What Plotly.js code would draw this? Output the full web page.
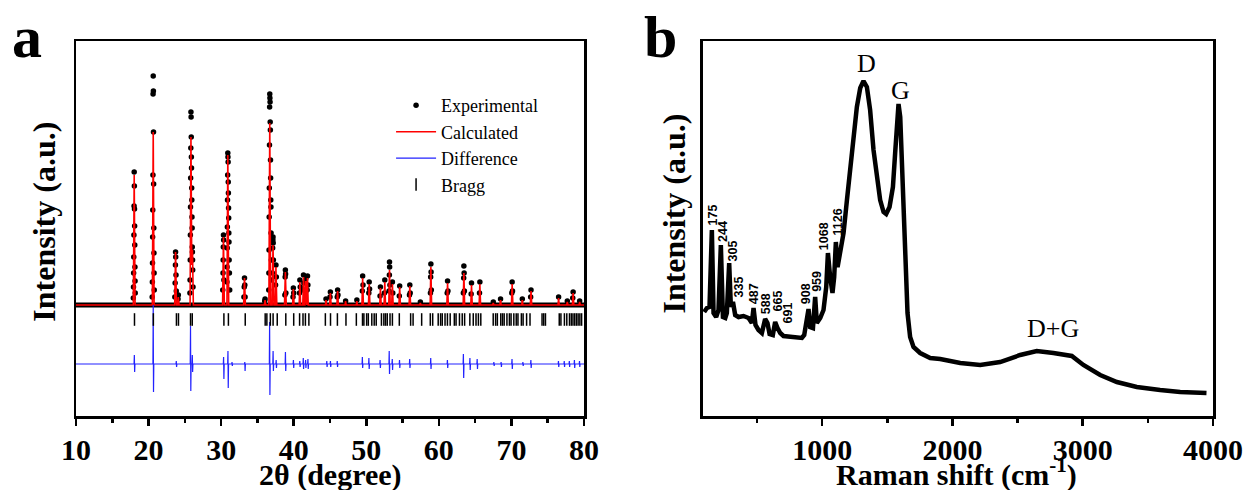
<!DOCTYPE html>
<html><head><meta charset="utf-8">
<script src="https://cdn.plot.ly/plotly-3.0.1.min.js"></script>
<style>html,body{margin:0;padding:0;background:#fff}#chart{width:1244px;height:490px}</style>
</head><body><div id="chart"></div>
<script>
// ---------- Panel a : XRD Rietveld refinement ----------
var expBaseX = [10, 80];
var expBaseY = [0, 0];

var obsX = [17.90,17.92,17.94,17.96,17.98,18.00,18.02,18.04,18.06,18.08,18.10,18.12,18.14,18.16,
  20.50,20.52,20.54,20.56,20.58,20.60,20.62,20.64,20.66,20.68,20.70,20.72,20.74,20.76,20.78,
  23.62,23.66,23.70,23.72,23.74,23.78,23.82,24.06,24.10,
  25.70,25.72,25.74,25.76,25.78,25.80,25.82,25.84,25.86,25.88,25.90,25.92,25.94,25.96,25.98,26.00,26.02,26.04,26.06,26.08,26.12,
  30.22,30.26,30.28,30.30,30.32,30.34,30.38,
  30.80,30.82,30.84,30.86,30.88,30.90,30.92,30.94,30.96,30.98,31.00,31.02,31.04,31.06,31.08,31.10,31.14,31.18,
  33.14,33.18,33.22,33.26,33.30,
  36.00,36.05,
  36.56,36.58,36.60,36.62,36.64,36.66,36.68,36.70,36.72,36.74,36.76,36.78,36.80,36.82,36.84,36.86,36.88,36.92,36.96,
  37.06,37.10,37.13,37.15,37.17,37.20,
  37.50,37.55,37.60,
  38.78,38.82,38.85,38.88,38.92,
  39.90,39.95,40.00, 40.80,40.85,40.90, 41.30,41.35,41.40, 41.62,41.65, 41.85,41.90,41.95,
  44.45, 45.00,45.05, 46.00,46.05,46.10, 47.15, 48.70,
  49.45,49.50,49.55, 50.35,50.40,50.45, 51.90,51.95, 52.50,52.55,
  53.14,53.18,53.20,53.22,53.26, 53.60,53.65, 54.55,54.60, 55.95,56.00,56.05, 57.45,
  58.84,58.87,58.90,58.93,58.96, 61.15,61.20,61.25,
  63.38,63.42,63.45,63.48,63.52, 64.45,64.50, 65.60,65.65, 67.50, 68.50,
  70.05,70.10,70.15, 71.50, 72.65,72.70, 76.50, 77.70, 78.45,78.50, 79.40];
var obsY = [7,18,32,48,70,99,133,119,96,79,60,38,24,12,
  8,23,42,68,95,130,211,229,214,173,121,77,52,32,15,
  8,22,40,53,48,30,14,6,10,
  12,25,45,70,98,127,157,193,188,168,148,137,117,105,88,77,58,53,45,35,18,
  15,32,45,58,70,65,25,
  23,38,57,78,105,130,152,148,143,123,112,97,87,72,63,45,32,15,
  8,18,27,20,8,
  4,6,
  15,32,55,88,117,160,198,211,207,203,183,175,145,127,105,98,72,45,25,
  32,57,65,68,62,45,
  20,40,28,
  10,28,35,31,12,
  8,17,12, 12,25,18, 15,30,22, 14,26, 15,29,20,
  6, 8,13, 8,15,10, 4, 5,
  14,29,20, 12,23,16, 9,18, 12,25,
  14,30,43,38,20, 23,12, 9,19, 10,20,12, 3,
  12,28,41,33,15, 12,24,14,
  12,27,39,32,14, 11,22, 12,23, 3, 6,
  12,23,14, 6, 8,15, 8, 4, 7,13, 4];

var calcX = [10,
  17.90,18.02,18.14, 20.52,20.64,20.76, 23.60,23.72,23.84, 24.00,24.10,24.20,
  25.72,25.84,25.95,26.05,26.17, 30.20,30.32,30.44, 30.80,30.92,31.04, 33.10,33.22,33.34,
  35.95,36.05,36.15, 36.58,36.70,36.82, 37.03,37.15,37.27, 37.45,37.55,37.67,
  38.73,38.85,38.97, 39.85,39.95,40.05, 40.75,40.85,40.95, 41.25,41.35,41.47,
  41.55,41.65,41.77, 41.80,41.90,42.00, 44.37,44.45,44.53, 44.95,45.05,45.15,
  45.95,46.05,46.15, 47.07,47.15,47.23, 48.62,48.70,48.78, 49.40,49.50,49.60,
  50.30,50.40,50.50, 51.85,51.95,52.05, 52.45,52.55,52.65, 53.10,53.20,53.30,
  53.50,53.60,53.70, 54.50,54.60,54.70, 55.90,56.00,56.10, 57.37,57.45,57.53,
  58.80,58.90,59.00, 61.10,61.20,61.30, 63.35,63.45,63.55, 64.40,64.50,64.60,
  65.55,65.65,65.75, 67.42,67.50,67.58, 68.42,68.50,68.58, 70.00,70.10,70.20,
  71.42,71.50,71.58, 72.60,72.70,72.80, 76.42,76.50,76.58, 77.62,77.70,77.78,
  78.40,78.50,78.60, 79.32,79.40,79.48, 80];
var calcY = [0,
  0,130,0, 0,173,0, 0,53,0, 0,8,0,
  0,168,40,55,0, 0,68,0, 0,150,0, 0,27,0,
  0,5,0, 0,182,0, 0,60,0, 0,38,0,
  0,33,0, 0,16,0, 0,23,0, 0,28,0,
  0,24,0, 0,27,0, 0,5,0, 0,12,0,
  0,14,0, 0,4,0, 0,4,0, 0,27,0,
  0,21,0, 0,17,0, 0,23,0, 0,35,0,
  0,21,0, 0,18,0, 0,19,0, 0,2,0,
  0,38,0, 0,22,0, 0,32,0, 0,20,0,
  0,21,0, 0,2,0, 0,5,0, 0,21,0,
  0,5,0, 0,14,0, 0,7,0, 0,3,0,
  0,12,0, 0,3,0, 0];

var diffX = [10,
  18.00,18.04,18.08,18.12, 20.60,20.64,20.68,20.72, 23.78,23.82,23.86,23.90,
  25.74,25.78,25.82,25.86, 25.99,26.03,26.07,26.11, 30.30,30.34,30.38,30.42,
  30.90,30.94,30.98,31.02, 31.46,31.50,31.54,31.58, 33.22,33.26,33.30,33.34,
  36.64,36.68,36.72,36.76, 37.12,37.16,37.20,37.24, 37.54,37.58,37.62,37.66,
  38.82,38.86,38.90,38.94, 39.92,39.96,40.00,40.04, 40.80,40.84,40.88,40.92,
  41.28,41.32,41.36,41.40, 41.60,41.64,41.68,41.72, 41.92,41.96,42.00,42.04,
  44.52,44.56,44.60,44.64, 45.02,45.06,45.10,45.14, 45.96,46.00,46.04,46.08,
  49.42,49.46,49.50,49.54, 50.32,50.36,50.40,50.44, 51.86,51.90,51.94,51.98,
  53.12,53.16,53.20,53.24, 53.54,53.58,53.62,53.66, 54.54,54.58,54.62,54.66,
  55.94,55.98,56.02,56.06, 58.84,58.88,58.92,58.96, 61.14,61.18,61.22,61.26,
  63.34,63.38,63.42,63.46, 64.24,64.28,64.32,64.36, 65.24,65.28,65.32,65.36,
  67.54,67.58,67.62,67.66, 68.54,68.58,68.62,68.66, 70.04,70.08,70.12,70.16,
  71.54,71.58,71.62,71.66, 72.64,72.68,72.72,72.76, 76.44,76.48,76.52,76.56,
  77.24,77.28,77.32,77.36, 77.94,77.98,78.02,78.06, 78.64,78.68,78.72,78.76,
  79.34,79.38,79.42,79.46, 80];
var diffY = [-59,
  -59,-50,-67,-59, -59,0,-87,-59, -59,-56,-62,-59,
  -59,-21,-86,-59, -59,-50,-67,-59, -59,-52,-74,-59,
  -59,-46,-83,-59, -59,-57,-61,-59, -59,-57,-66,-59,
  -59,-17,-90,-59, -59,-46,-66,-59, -59,-55,-63,-59,
  -59,-47,-66,-59, -59,-55,-63,-59, -59,-56,-62,-59,
  -59,-53,-64,-59, -59,-55,-63,-59, -59,-54,-64,-59,
  -59,-56,-62,-59, -59,-56,-62,-59, -59,-56,-62,-59,
  -59,-52,-63,-59, -59,-53,-64,-59, -59,-55,-63,-59,
  -59,-46,-69,-59, -59,-54,-65,-59, -59,-55,-63,-59,
  -59,-54,-63,-59, -59,-53,-64,-59, -59,-55,-63,-59,
  -59,-49,-73,-59, -59,-53,-65,-59, -59,-54,-64,-59,
  -59,-57,-61,-59, -59,-57,-62,-59, -59,-54,-64,-59,
  -59,-57,-61,-59, -59,-55,-63,-59, -59,-56,-62,-59,
  -59,-56,-62,-59, -59,-56,-62,-59, -59,-55,-63,-59,
  -59,-56,-62,-59, -59];

var braggPos = [18.06,20.66,23.84,24.12,25.78,26.02,30.38,31.00,33.32,36.07,36.30,36.78,37.16,37.73,
  38.91,40.00,40.81,41.28,41.61,42.09,44.36,45.07,46.02,47.20,48.63,49.48,49.67,50.05,50.28,50.76,
  51.09,51.37,52.09,52.42,52.65,52.89,53.27,53.60,54.55,56.11,56.45,57.63,58.82,59.15,59.91,60.24,
  60.47,60.85,61.18,61.56,62.13,62.37,62.84,63.22,63.55,64.27,64.74,65.12,65.45,65.78,67.49,67.82,
  68.06,68.53,68.77,69.00,69.38,69.72,69.95,70.33,70.66,70.90,71.37,71.61,72.09,72.56,74.22,74.45,
  74.69,76.59,76.82,77.30,77.63,78.00,78.25,78.48,78.72,78.96,79.19,79.43,79.67];
var braggLevel = -14.5;

// ---------- Panel b : Raman spectrum ----------
var ramanShift = [94,115,135,153,166,186,204,222,238,256,268,286,299,315,332,358,396,435,460,473,
  488,511,537,562,580,596,621,639,657,678,703,754,806,844,862,882,895,908,929,946,
  959,985,1010,1031,1044,1061,1079,1092,1105,1118,1138,1164,1190,1215,1240,1266,1292,1317,1343,1368,
  1394,1420,1445,1471,1491,1517,1543,1560,1573,1586,1599,1619,1637,1655,1675,1701,1752,1829,1906,2060,
  2213,2366,2520,2647,2775,2916,3005,3134,3262,3415,3594,3748,3950];
var ramanInt = [104,108,109,186,103,99,106,171,99,98,103,153,109,114,101,99,100,98,93,108,
  91,86,83,97,93,82,81,94,88,83,80,79,79,78,81,96,107,89,88,119,
  93,98,106,129,163,139,123,139,174,149,163,183,216,249,283,309,328,335,329,306,
  266,236,216,204,202,209,229,263,299,312,299,223,149,103,79,69,63,58,57,53,
  51,54,61,65,63,60,51,41,34,29,26,24,23];

var ramanLabels = ["175","244","305","335","487","588","665","691","908","959","1068","1126"];
var ramanLabelX = [158,238,319,365,478,570,657,741,877,959,1015,1125];
var ramanLabelY = [201,185,165,129,122,112,115,103,122,135,180,194];

var bandLabels = ["D","G","D+G"];
var bandLabelX = [1338,1599,2774];
var bandLabelY = [353,326,88];

// axis titles and panel letters
var titleTexts = ["2θ (degree)", "Raman shift (cm<sup>-1</sup>)", "Intensity (a.u.)", "Intensity (a.u.)"];
var panelLetters = ["a", "b"];

// ---------- build ----------
var SERIF = "Liberation Serif, Times New Roman, serif";
var traces = [
  {x: expBaseX, y: expBaseY, mode: "lines", line: {color: "#000", width: 5}, showlegend: false, hoverinfo: "skip", xaxis: "x", yaxis: "y"},
  {x: obsX, y: obsY, mode: "markers", name: "Experimental", marker: {color: "#000", size: 5.5}, xaxis: "x", yaxis: "y"},
  {x: calcX, y: calcY, mode: "lines", name: "Calculated", line: {color: "#ff0000", width: 1.6}, xaxis: "x", yaxis: "y"},
  {x: diffX, y: diffY, mode: "lines", name: "Difference", line: {color: "#2222ff", width: 1.2}, xaxis: "x", yaxis: "y"},
  {x: braggPos, y: braggPos.map(function(){return braggLevel;}), mode: "markers", name: "Bragg",
    marker: {symbol: "line-ns-open", size: 9, color: "#000", line: {color: "#000", width: 1.5}}, xaxis: "x", yaxis: "y"},
  {x: ramanShift, y: ramanInt, mode: "lines", line: {color: "#000", width: 4.5}, showlegend: false, xaxis: "x2", yaxis: "y2"}
];

var axisCommon = {showline: true, mirror: true, linecolor: "#000", linewidth: 2.5, showgrid: false, zeroline: false, automargin: false};
var tickFont = {family: SERIF, size: 30, color: "#000", weight: "bold"};
var titleFontX = {family: SERIF, size: 30, color: "#000", weight: "bold"};
var titleFontY = {family: SERIF, size: 32, color: "#000", weight: "bold"};
var letterFont = {family: SERIF, size: 60, color: "#000", weight: "bold"};

var annotations = [];
function ann(o, ya) { o.showarrow = false; o.xanchor = "center"; o.yanchor = ya || "middle"; annotations.push(o); }
ramanLabels.forEach(function(t, i){
  ann({x: ramanLabelX[i], y: ramanLabelY[i], xref: "x2", yref: "y2", text: t, textangle: -90,
    font: {family: "Liberation Sans, Arial, sans-serif", size: 12.5, color: "#000", weight: "bold"}});
});
bandLabels.forEach(function(t, i){
  ann({x: bandLabelX[i], y: bandLabelY[i], xref: "x2", yref: "y2", text: t, font: {family: SERIF, size: 26, color: "#000"}});
});
// axis titles
ann({x: 0.2234, y: -0.209, xref: "paper", yref: "paper", text: titleTexts[0], font: titleFontX}, "bottom");
ann({x: 0.7748, y: -0.209, xref: "paper", yref: "paper", text: titleTexts[1], font: titleFontX}, "bottom");
ann({x: -0.0277, y: 0.517, xref: "paper", yref: "paper", text: titleTexts[2], textangle: -90, font: titleFontY});
ann({x: 0.5251, y: 0.54, xref: "paper", yref: "paper", text: titleTexts[3], textangle: -90, font: titleFontY});
// panel letters
ann({x: -0.0427, y: 1.105, xref: "paper", yref: "paper", text: panelLetters[0], font: letterFont}, "top");
ann({x: 0.5145, y: 1.105, xref: "paper", yref: "paper", text: panelLetters[1], font: letterFont}, "top");

var layout = {
  width: 1244, height: 490,
  margin: {l: 76, r: 31, t: 41, b: 74},
  paper_bgcolor: "#fff", plot_bgcolor: "#fff",
  font: {family: SERIF, color: "#000"},
  xaxis: Object.assign({}, axisCommon, {domain: [0, 0.44679], range: [10, 80], tick0: 0, dtick: 10, ticks: "outside", ticklen: 7, tickwidth: 2.5, tickcolor: "#000",
    ticklabelstandoff: -2,
    minor: {dtick: 5, ticks: "outside", ticklen: 4, tickwidth: 2.5, tickcolor: "#000"}, tickfont: tickFont}),
  yaxis: Object.assign({}, axisCommon, {domain: [0, 1], range: [-111, 264], showticklabels: false, ticks: ""}),
  xaxis2: Object.assign({}, axisCommon, {domain: [0.55145, 1], range: [85, 4000], tick0: 0, dtick: 1000, ticks: "outside", ticklen: 7, tickwidth: 2.5, tickcolor: "#000",
    ticklabelstandoff: -2,
    minor: {dtick: 500, ticks: "outside", ticklen: 4, tickwidth: 2.5, tickcolor: "#000"}, tickfont: tickFont, anchor: "y2"}),
  yaxis2: Object.assign({}, axisCommon, {domain: [0, 1], range: [0, 375], showticklabels: false, ticks: "", anchor: "x2"}),
  legend: {x: 0.2771, y: 0.877, xanchor: "left", yanchor: "top", bgcolor: "rgba(0,0,0,0)", font: {family: SERIF, size: 18, color: "#000"}, itemwidth: 40},
  annotations: annotations
};

Plotly.newPlot("chart", traces, layout, {displayModeBar: false, staticPlot: true});
</script></body></html>
